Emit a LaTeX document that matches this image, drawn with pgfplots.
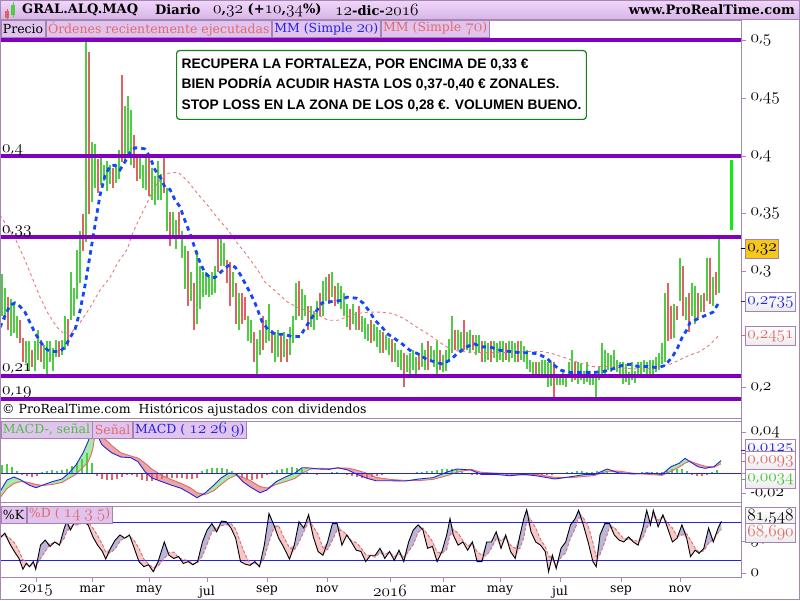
\documentclass[border=0pt]{standalone}
\usepackage{fontspec}
\usepackage{pgfplots}
\pgfplotsset{compat=1.18}
\usepackage{pgfplotstable}
\setmainfont{DejaVu Serif}
\newfontfamily\arial{Liberation Sans}
\newcommand\os[1]{{\fontsize{16}{16}\usefont{OML}{lmm}{m}{it}#1}}
\newcommand\ob[1]{{\fontsize{16}{16}\usefont{OML}{lmm}{b}{it}#1}}
\newcommand\dn[2]{\os{#1},\os{#2}}
\newcommand\fs{\fontsize{12.5}{15}\selectfont}

\definecolor{pur}{RGB}{128,0,190}
\definecolor{frm}{RGB}{165,135,180}
\definecolor{barG}{RGB}{78,204,68}
\definecolor{barR}{RGB}{222,100,100}
\definecolor{maB}{RGB}{20,70,250}
\definecolor{maR}{RGB}{232,120,120}
\definecolor{tagF}{RGB}{224,196,238}
\definecolor{tagB}{RGB}{165,130,180}
\definecolor{hdrT}{RGB}{242,214,250}
\definecolor{hdrB}{RGB}{214,180,230}
\definecolor{salm}{RGB}{228,105,105}
\definecolor{blu}{RGB}{35,35,230}
\definecolor{grn}{RGB}{70,195,60}
\definecolor{gold}{RGB}{246,200,25}
\definecolor{tgt}{RGB}{20,235,20}
\definecolor{fillG}{RGB}{165,235,165}
\definecolor{fillR}{RGB}{238,165,165}
\definecolor{fillK}{RGB}{185,182,218}
\definecolor{fillD}{RGB}{246,200,200}
\definecolor{boxG}{RGB}{20,130,20}

% price bars: x (chart position), low, high, c=1 up / 0 down
\pgfplotstableread{
x lo hi c
2 0.262 0.298 1
5 0.258 0.286 1
8 0.250 0.278 0
11 0.244 0.276 1
14 0.247 0.272 1
17 0.243 0.262 1
20 0.238 0.258 0
23 0.222 0.243 0
26 0.221 0.240 1
29 0.214 0.240 1
32 0.218 0.232 0
35 0.214 0.240 1
38 0.224 0.250 1
41 0.222 0.241 0
44 0.216 0.237 1
47 0.212 0.240 1
50 0.222 0.240 1
53 0.214 0.234 1
56 0.226 0.241 1
59 0.226 0.240 0
62 0.228 0.241 1
65 0.232 0.262 1
68 0.236 0.259 0
71 0.258 0.300 1
74 0.262 0.286 1
77 0.276 0.319 1
80 0.290 0.335 1
83 0.318 0.350 0
86 0.326 0.500 1
89 0.350 0.490 0
92 0.360 0.412 1
95 0.372 0.410 1
98 0.368 0.397 0
101 0.375 0.400 1
104 0.378 0.392 1
107 0.370 0.396 1
110 0.376 0.392 1
113 0.372 0.390 0
116 0.377 0.392 1
119 0.380 0.405 1
122 0.395 0.470 0
125 0.395 0.443 1
128 0.400 0.452 1
131 0.392 0.440 1
134 0.390 0.418 0
137 0.378 0.400 0
140 0.380 0.398 1
143 0.372 0.392 1
146 0.371 0.398 1
149 0.365 0.398 0
152 0.362 0.390 1
155 0.358 0.383 1
158 0.362 0.396 1
161 0.362 0.384 1
164 0.368 0.400 0
167 0.335 0.372 1
170 0.322 0.352 0
173 0.328 0.352 1
176 0.320 0.345 1
179 0.328 0.352 0
182 0.312 0.335 1
185 0.285 0.322 1
188 0.270 0.318 0
191 0.275 0.300 1
194 0.250 0.290 0
197 0.255 0.318 1
200 0.268 0.305 1
203 0.278 0.300 1
206 0.280 0.300 1
209 0.278 0.296 1
212 0.280 0.300 1
215 0.282 0.305 1
218 0.300 0.330 0
221 0.305 0.328 1
224 0.305 0.325 1
227 0.290 0.310 0
230 0.270 0.308 0
233 0.278 0.300 1
236 0.255 0.290 0
239 0.250 0.282 1
242 0.255 0.282 0
245 0.258 0.278 0
248 0.240 0.262 1
251 0.238 0.258 1
254 0.222 0.248 0
257 0.212 0.242 1
260 0.228 0.250 1
263 0.232 0.262 0
266 0.238 0.258 1
269 0.240 0.272 1
272 0.230 0.250 0
275 0.222 0.248 1
278 0.226 0.250 1
281 0.222 0.245 0
284 0.226 0.248 1
287 0.222 0.242 0
290 0.228 0.252 1
293 0.238 0.262 1
296 0.258 0.290 1
299 0.262 0.292 0
302 0.258 0.285 1
305 0.262 0.280 1
308 0.250 0.270 0
311 0.252 0.270 1
314 0.250 0.266 1
317 0.258 0.275 1
320 0.262 0.282 0
323 0.262 0.292 1
326 0.275 0.295 1
329 0.272 0.298 0
332 0.278 0.300 1
335 0.270 0.288 0
338 0.272 0.290 1
341 0.268 0.288 1
344 0.262 0.282 1
347 0.252 0.272 1
350 0.250 0.268 0
353 0.255 0.272 1
356 0.250 0.265 1
359 0.250 0.270 0
362 0.248 0.262 1
365 0.242 0.260 1
368 0.240 0.255 1
371 0.238 0.258 0
374 0.240 0.255 1
377 0.235 0.252 1
380 0.230 0.250 1
383 0.230 0.248 0
386 0.232 0.245 1
389 0.228 0.243 1
392 0.222 0.242 0
395 0.222 0.238 1
398 0.218 0.232 1
401 0.215 0.232 1
404 0.200 0.230 0
407 0.213 0.228 1
410 0.212 0.230 1
413 0.215 0.232 1
416 0.212 0.226 1
419 0.215 0.230 0
422 0.218 0.238 1
425 0.215 0.232 1
428 0.215 0.240 0
431 0.222 0.236 1
434 0.218 0.232 1
437 0.212 0.240 1
440 0.215 0.232 0
443 0.213 0.228 1
446 0.214 0.232 1
449 0.222 0.242 1
452 0.230 0.262 1
455 0.232 0.250 0
458 0.232 0.250 1
461 0.230 0.248 1
464 0.232 0.258 0
467 0.232 0.248 1
470 0.230 0.250 1
473 0.232 0.245 0
476 0.228 0.245 1
479 0.230 0.245 1
482 0.222 0.240 0
485 0.222 0.240 1
488 0.224 0.238 1
491 0.222 0.240 0
494 0.225 0.240 1
497 0.222 0.238 1
500 0.224 0.240 1
503 0.222 0.240 1
506 0.224 0.238 0
509 0.222 0.240 1
512 0.225 0.240 1
515 0.222 0.238 1
518 0.222 0.240 0
521 0.224 0.240 1
524 0.222 0.236 1
527 0.216 0.232 1
530 0.213 0.224 1
533 0.212 0.222 1
536 0.212 0.222 0
539 0.212 0.222 1
542 0.212 0.224 1
545 0.212 0.224 1
548 0.200 0.222 1
551 0.201 0.222 1
554 0.190 0.222 0
557 0.202 0.212 1
560 0.202 0.212 1
563 0.202 0.213 1
566 0.200 0.212 1
569 0.210 0.222 1
572 0.205 0.232 1
575 0.206 0.222 0
578 0.203 0.222 1
581 0.206 0.220 1
584 0.203 0.214 1
587 0.205 0.222 1
590 0.202 0.214 1
593 0.202 0.212 1
596 0.192 0.212 1
599 0.206 0.218 1
602 0.212 0.238 1
605 0.212 0.232 1
608 0.215 0.230 1
611 0.213 0.228 1
614 0.215 0.232 1
617 0.213 0.224 1
620 0.210 0.222 1
623 0.203 0.222 1
626 0.205 0.220 1
629 0.202 0.213 1
632 0.206 0.222 1
635 0.204 0.214 1
638 0.212 0.222 1
641 0.212 0.222 1
644 0.213 0.224 1
647 0.212 0.222 1
650 0.212 0.224 1
653 0.212 0.224 1
656 0.213 0.226 1
659 0.215 0.230 1
662 0.220 0.238 1
665 0.222 0.282 1
668 0.240 0.290 0
671 0.242 0.270 0
674 0.243 0.272 1
677 0.258 0.270 0
680 0.275 0.312 1
683 0.262 0.305 0
686 0.258 0.278 1
689 0.248 0.282 0
692 0.262 0.290 1
695 0.255 0.288 1
698 0.260 0.282 0
701 0.265 0.280 1
704 0.265 0.282 0
707 0.275 0.312 1
710 0.272 0.312 0
713 0.270 0.295 1
716 0.280 0.300 0
719 0.282 0.330 1
}\price

% MM (Simple 20)
\pgfplotstableread{
x y
0 0.252
5 0.262
10 0.271
15 0.273
20 0.270
25 0.265
30 0.256
35 0.247
40 0.240
45 0.234
50 0.231
55 0.231
60 0.231
65 0.235
70 0.243
75 0.250
80 0.266
85 0.288
90 0.314
95 0.340
100 0.366
105 0.383
110 0.391
115 0.392
120 0.388
125 0.395
130 0.403
135 0.407
140 0.407
145 0.406
150 0.399
155 0.388
160 0.382
165 0.373
170 0.371
175 0.362
180 0.356
185 0.344
190 0.333
195 0.320
200 0.308
205 0.299
210 0.295
215 0.295
220 0.299
225 0.303
230 0.306
235 0.304
240 0.298
245 0.290
250 0.282
255 0.273
262 0.257
268 0.250
275 0.246
283 0.246
292 0.244
300 0.244
305 0.251
310 0.258
322 0.273
330 0.274
340 0.275
347 0.278
357 0.277
363 0.273
370 0.265
375 0.258
382 0.252
388 0.246
395 0.242
403 0.237
410 0.232
418 0.229
427 0.224
435 0.222
443 0.220
452 0.225
458 0.230
467 0.235
473 0.238
482 0.235
490 0.235
500 0.232
510 0.231
520 0.230
528 0.230
538 0.229
547 0.225
553 0.220
560 0.215
570 0.213
585 0.213
595 0.213
605 0.214
613 0.216
622 0.219
630 0.220
638 0.218
648 0.218
658 0.217
665 0.219
672 0.226
677 0.233
682 0.243
687 0.250
690 0.256
697 0.259
705 0.262
713 0.265
719 0.2735
}\maTw

% MM (Simple 70)
\pgfplotstableread{
x y
0 0.349
15 0.329
25 0.310
33 0.293
40 0.278
48 0.264
57 0.252
63 0.247
72 0.248
80 0.256
90 0.269
100 0.284
110 0.295
118 0.308
127 0.319
133 0.334
140 0.347
147 0.359
153 0.371
160 0.379
168 0.385
178 0.386
187 0.379
197 0.368
207 0.358
217 0.347
228 0.336
237 0.325
248 0.313
258 0.301
265 0.291
277 0.282
287 0.274
298 0.269
308 0.266
317 0.263
328 0.258
338 0.258
347 0.261
358 0.264
368 0.265
380 0.265
392 0.264
403 0.260
417 0.252
430 0.245
443 0.237
453 0.232
463 0.231
473 0.230
487 0.230
510 0.230
530 0.231
543 0.231
553 0.229
567 0.225
580 0.221
593 0.218
607 0.218
620 0.217
633 0.216
647 0.216
660 0.218
670 0.220
680 0.224
690 0.228
700 0.231
710 0.237
719 0.2451
}\maSe

% MACD and signal
\pgfplotstableread{
x m s
0 -0.018 -0.024
7 -0.0066 -0.015
14 -0.0036 -0.010
21 -0.0066 -0.008
29 -0.0115 -0.009
36 -0.0142 -0.011
43 -0.0115 -0.012
52 -0.0083 -0.011
62 -0.0056 -0.009
69 0.0003 -0.005
76 0.0082 -0.001
83 0.020 0.006
88 0.031 0.011
91 0.040 0.018
93 0.0445 0.025
95 0.041 0.038
98 0.036 0.039
102 0.028 0.036
108 0.023 0.031
112 0.020 0.027
121 0.016 0.020
131 0.0153 0.017
138 0.0114 0.015
145 0.0016 0.010
152 -0.0046 0.004
162 -0.0083 -0.002
171 -0.0115 -0.006
181 -0.0147 -0.010
190 -0.0197 -0.014
197 -0.024 -0.019
205 -0.0194 -0.021
214 -0.0115 -0.017
221 -0.0046 -0.011
229 0.0003 -0.005
236 -0.0007 -0.002
243 -0.0083 -0.004
250 -0.0132 -0.007
260 -0.0191 -0.013
267 -0.0164 -0.0145
276 -0.0083 -0.011
286 -0.0033 -0.008
295 0.0003 -0.005
302 0.0055 0.000
310 0.0052 0.004
319 0.0042 0.005
329 0.0039 0.0045
338 0.0055 0.005
348 0.0032 0.0052
357 -0.001 0.003
367 -0.0049 0.000
376 -0.0073 -0.004
390 -0.0073 -0.006
405 -0.0076 -0.007
419 -0.0056 -0.0071
433 -0.0043 -0.006
448 0.0016 -0.002
457 0.0042 0.001
471 0.0032 0.004
481 -0.001 0.001
495 -0.001 0.0002
510 -0.0024 -0.0004
524 -0.001 -0.0016
538 -0.0027 -0.0012
555 -0.0056 -0.004
571 -0.0033 -0.0042
586 -0.001 -0.003
595 -0.001 -0.002
607 0.0042 0.002
619 0.0003 0.0022
633 -0.0007 0.0001
648 0.0003 -0.001
662 -0.001 -0.002
671 0.0065 0.002
679 0.0098 0.006
685 0.0147 0.010
690 0.0114 0.012
698 0.0065 0.009
705 0.0049 0.007
714 0.0065 0.006
721 0.0125 0.0093
}\macd

% MACD histogram
\pgfplotstableread{
x h
2 0.008
7 0.009
12 0.006
17 0.002
22 -0.002
27 -0.003
32 -0.004
37 -0.003
42 0.001
47 0.002
52 0.003
57 0.002
62 0.003
67 0.004
72 0.007
77 0.010
82 0.014
87 0.020
92 0.010
97 -0.003
102 -0.006
107 -0.007
112 -0.007
117 -0.006
122 -0.004
127 -0.002
132 -0.002
137 -0.004
142 -0.007
147 -0.008
152 -0.008
157 -0.007
162 -0.006
167 -0.005
172 -0.005
177 -0.005
182 -0.005
187 -0.006
192 -0.006
197 -0.005
202 0.002
207 0.004
212 0.005
217 0.005
222 0.005
227 0.004
232 0.002
237 -0.003
242 -0.005
247 -0.007
252 -0.007
257 -0.006
262 -0.005
267 -0.002
272 0.001
277 0.003
282 0.004
287 0.005
292 0.006
297 0.005
302 0.004
307 0.001
312 -0.001
317 -0.002
322 -0.001
327 0.000
332 0.001
337 0.001
342 0.000
347 -0.002
352 -0.003
357 -0.004
362 -0.005
367 -0.005
372 -0.004
377 -0.003
382 -0.002
387 -0.001
392 -0.001
397 0.000
402 -0.001
407 -0.001
412 0.000
417 0.001
422 0.001
427 0.002
432 0.002
437 0.003
442 0.004
447 0.004
452 0.004
457 0.003
462 0.001
467 -0.001
472 -0.002
477 -0.002
482 -0.002
487 -0.001
492 -0.001
497 -0.001
502 -0.001
507 -0.002
512 -0.002
517 -0.001
522 0.000
527 -0.001
532 -0.002
537 -0.002
542 -0.002
547 -0.002
552 -0.002
557 -0.001
562 0.000
567 0.001
572 0.001
577 0.002
582 0.002
587 0.001
592 0.001
597 0.002
602 0.002
607 0.002
612 -0.001
617 -0.001
622 -0.001
627 0.000
632 -0.001
637 0.000
642 0.001
647 0.001
652 0.001
657 0.001
662 0.001
667 0.003
672 0.004
677 0.004
682 0.004
687 0.002
692 -0.002
697 -0.003
702 -0.003
707 -0.002
712 0.001
717 0.003
}\hist

% Stochastic %K and %D
\pgfplotstableread{
x k d
0 55 58
4.8 63 59
9.5 47 55
14.3 34 48
19 23 35
22.9 6 21
26.2 15 17
29.5 10 11
33.3 18 14
35.7 6 11
40.5 44 23
45.2 52 34
50 42 46
54.8 49 48
59.5 44 45
64.3 71 55
66.7 81 65
70.5 68 73
73.8 78 76
78.6 82 76
83.3 81 80
88.1 76 80
92.9 57 71
97.6 44 59
102.4 34 45
105.7 22 33
110.5 39 32
115.2 52 38
120 60 50
124.8 55 56
129.5 60 58
134.3 39 51
139 18 39
143.8 10 22
148.6 13 14
153.3 2 8
158.1 18 11
164.3 49 23
169 28 32
173.8 23 33
178.6 26 24
183.3 15 21
188.1 18 20
192.9 13 15
197.6 18 16
202.4 49 27
207.1 68 45
211.9 78 65
216.7 65 70
221.4 82 75
226.2 81 76
231 71 78
235.7 55 69
240.5 18 48
245.2 14 29
250 12 15
254.8 18 15
259.5 10 13
264.3 44 24
269 94 49
273.8 76 71
278.6 55 75
283.3 42 58
289.5 22 40
294.3 44 36
299 81 49
303.8 71 65
308.6 92 81
313.3 57 73
318.1 34 61
322.9 28 40
327.6 49 37
332.4 78 52
337.1 78 68
341.9 44 67
346.7 60 61
351.4 49 51
356.2 36 48
361 34 40
365.7 18 29
370.5 28 27
375.2 28 25
380 39 32
384.8 23 30
389.5 34 32
394.3 20 26
399 36 30
403.8 18 25
408.6 49 34
413.3 68 45
418.1 76 64
422.9 68 71
427.6 39 61
432.4 42 50
437.1 18 33
441.9 34 31
446.7 60 37
450 86 60
453.3 60 69
458.1 44 63
462.9 49 51
467.6 36 43
472.4 49 45
477.1 18 34
481.9 18 28
486.7 49 28
491.4 49 39
496.2 65 54
501 39 51
505.7 60 55
510.5 34 44
515.2 23 39
520 60 39
523.8 86 56
526.7 100 82
531 65 84
535.7 49 71
540.5 44 53
545.2 34 42
548.6 2 27
552.4 28 21
556.2 7 12
561 39 25
565.7 49 32
570.5 76 55
575.2 86 70
578.6 99 87
583.3 76 87
588.1 49 75
592.9 18 48
596.2 10 26
600 60 29
604.8 78 49
609.5 78 72
614.3 60 72
619 52 63
623.8 49 54
628.6 57 53
633.3 49 52
638.1 44 50
642.9 71 55
646.7 99 71
650.5 76 82
653.3 99 91
658.1 73 83
662.9 92 88
667.6 71 79
672.4 49 71
677.1 55 58
681.9 76 60
686.7 55 62
690.5 26 52
695.2 36 39
699 31 33
703.8 39 35
708.6 71 47
713.3 49 53
718.1 71 64
721.4 81.548 68.69
}\sto

\pgfplotsset{
  panel/.style={scale only axis, xmin=0, xmax=741, xtick=\empty,
    axis line style={draw=frm, line width=0.9pt}, scaled y ticks=false,
    ytick pos=right, yticklabel pos=right, tick align=outside,
    major tick length=5pt, tick style={draw=frm, line width=0.8pt},
    tick label style={font=\fs}, yticklabel style={xshift=1pt}},
  under/.style={scale only axis, hide axis, xmin=0, xmax=741, stack plots=y},
  bars/.style={draw=none, mark=none, restrict expr to domain={\thisrow{c}}{#1},
    error bars/.cd, y dir=plus, y explicit, error mark=none},
}

\tikzset{
  tag/.style={draw=tagB, fill=tagF, line width=0.8pt, inner xsep=2pt, inner ysep=0pt,
    minimum height=17pt, anchor=north west, font=\fs},
  val/.style={draw=tagB, top color=white, bottom color=gray!15, line width=0.8pt,
    inner xsep=2pt, inner ysep=0pt, minimum height=19pt, anchor=west, font=\fs},
}

\begin{document}
\begin{tikzpicture}[x=1pt,y=1pt]
\useasboundingbox (0,0) rectangle (800,600);
\fill[white] (0,0) rectangle (800,600);
\shade[top color=hdrT, bottom color=hdrB] (0,580) rectangle (800,600);

% price panel
\begin{axis}[panel, at={(0pt,580pt)}, anchor=north west, width=741pt, height=398pt,
  ymin=0.17355, ymax=0.5175, ytick={0.2,0.3,0.35,0.4,0.45,0.5},
  yticklabels={\dn{0}{2},\dn{0}{3},\dn{0}{35},\dn{0}{4},\dn{0}{45},\dn{0}{5}}]
\addplot[bars={0.5:1.5}, error bar style={draw=barG, line width=1.7pt}]
  table[x=x, y=lo, y error expr=\thisrow{hi}-\thisrow{lo}] {\price};
\addplot[bars={-0.5:0.5}, error bar style={draw=barR, line width=1.7pt}]
  table[x=x, y=lo, y error expr=\thisrow{hi}-\thisrow{lo}] {\price};
\addplot[maR, line width=0.9pt, dash pattern=on 3pt off 3pt] table[x=x, y=y] {\maSe};
\addplot[maB, line width=2.8pt, dash pattern=on 4.5pt off 4pt] table[x=x, y=y] {\maTw};
\addplot[pur, line width=3.6pt] coordinates {(0,0.5)(741,0.5)};
\addplot[pur, line width=3.6pt] coordinates {(0,0.4)(741,0.4)};
\addplot[pur, line width=3.6pt] coordinates {(0,0.33)(741,0.33)};
\addplot[pur, line width=3.6pt] coordinates {(0,0.21)(741,0.21)};
\addplot[pur, line width=3.6pt] coordinates {(0,0.19)(741,0.19)};
\addplot[tgt, line width=3pt] coordinates {(731,0.3965)(731,0.336)};
\end{axis}

% MACD band between MACD and signal (stacked on the signal)
\begin{axis}[under, at={(0pt,179pt)}, anchor=north west, width=741pt, height=81pt,
  ymin=-0.0282, ymax=0.0514]
\addplot[draw=none] table[x=x, y=s] {\macd};
\addplot[draw=none, fill=fillG] table[x=x, y expr={max(\thisrow{m}-\thisrow{s},0)}] {\macd} \closedcycle;
\addplot[draw=none] table[x=x, y expr={-max(\thisrow{m}-\thisrow{s},0)}] {\macd};
\addplot[draw=none, fill=fillR] table[x=x, y expr={min(\thisrow{m}-\thisrow{s},0)}] {\macd} \closedcycle;
\end{axis}

% MACD panel
\begin{axis}[panel, at={(0pt,179pt)}, anchor=north west, width=741pt, height=81pt,
  ymin=-0.0282, ymax=0.0514, ytick={-0.02,0,0.02,0.04},
  yticklabels={-\dn{0}{02},,,\dn{0}{04}}]
\addplot[ycomb, barG, line width=1.3pt, restrict y to domain=0:1] table[x=x, y=h] {\hist};
\addplot[ycomb, barR, line width=1.3pt, restrict y to domain=-1:0] table[x=x, y=h] {\hist};
\addplot[salm, line width=0.9pt] table[x=x, y=s] {\macd};
\addplot[blu, line width=0.9pt] table[x=x, y=m] {\macd};
\addplot[blu, line width=0.9pt] coordinates {(0,0)(741,0)};
\end{axis}

% stochastic band between %K and %D (stacked on %D)
\begin{axis}[under, at={(0pt,94pt)}, anchor=north west, width=741pt, height=71pt,
  ymin=-6.3, ymax=105.8]
\addplot[draw=none] table[x=x, y=d] {\sto};
\addplot[draw=none, fill=fillK] table[x=x, y expr={max(\thisrow{k}-\thisrow{d},0)}] {\sto} \closedcycle;
\addplot[draw=none] table[x=x, y expr={-max(\thisrow{k}-\thisrow{d},0)}] {\sto};
\addplot[draw=none, fill=fillD] table[x=x, y expr={min(\thisrow{k}-\thisrow{d},0)}] {\sto} \closedcycle;
\end{axis}

% stochastic panel
\begin{axis}[panel, at={(0pt,94pt)}, anchor=north west, width=741pt, height=71pt,
  ymin=-6.3, ymax=105.8, ytick={0,50}, yticklabels={\ob{0},\os{50}},
  xtick={36,92,149,207,267,327,390,443,500,560,621,680},
  xticklabels={\ob{2015},mar,may,jul,sep,nov,\ob{2016},mar,may,jul,sep,nov},
  xtick pos=bottom]
\addplot[blu, line width=0.9pt] coordinates {(0,80)(741,80)};
\addplot[blu, line width=0.9pt] coordinates {(0,20)(741,20)};
\addplot[salm, line width=0.9pt, dash pattern=on 3pt off 2pt] table[x=x, y=d] {\sto};
\addplot[black, line width=0.9pt] table[x=x, y=k] {\sto};
\end{axis}

% frames
\draw[frm, line width=1pt] (0.5,0.5) rectangle (799.5,599.5);
\draw[frm, line width=1pt] (0,580) -- (800,580);
\draw[frm, line width=0.9pt] (741,23) -- (741,580);

% header
\fill[barR] (5,582) rectangle (9,589); \draw[barR] (7,580.5) -- (7,591);
\fill[barG] (11,585) rectangle (15,595); \draw[barG] (13,583) -- (13,598);
\begin{scope}[every node/.style={anchor=west, inner sep=0pt, font=\fontsize{13}{16}\selectfont\bfseries}]
\node at (22,590) {GRAL.ALQ.MAQ};
\node at (155,590) {Diario};
\node at (213,590) {\ob{0},\ob{32} (+\ob{10},\ob{34}\%)};
\node at (335,590) {\ob{12}-dic-\ob{2016}};
\node[anchor=east] at (795,590) {www.ProRealTime.com};
\end{scope}

% legend tags
\node[tag] (p1) at (0.5,580) {Precio};
\node[tag, text=salm] (p2) at (p1.north east) {Órdenes recientemente ejecutadas};
\node[tag, text=blu] (p3) at (p2.north east) {MM (Simple \os{20})};
\node[tag, text=salm] (p4) at (p3.north east) {MM (Simple \os{70})};
\node[tag, text=grn] (m1) at (0.5,179) {MACD-, señal};
\node[tag, text=salm] (m2) at (m1.north east) {Señal};
\node[tag, text=blu] (m3) at (m2.north east) {MACD ( \os{12} \os{26} \os{9})};
\node[tag] (s1) at (0.5,94) {\%K};
\node[tag, text=salm] (s2) at (s1.north east) {\%D ( \os{14} \os{3} \os{5})};

% comment box
\node[draw=boxG, line width=1.2pt, rounded corners=3pt, fill=white, align=left,
  anchor=north west, inner xsep=5pt, inner ysep=8pt,
  font=\arial\bfseries\fontsize{13.8}{20.5}\selectfont] at (176,550)
  {RECUPERA LA FORTALEZA, POR ENCIMA DE 0,33 €\\
   BIEN PODRÍA ACUDIR HASTA LOS 0,37-0,40 € ZONALES.\\
   STOP LOSS EN LA ZONA DE LOS 0,28 €. VOLUMEN BUENO.};

% level labels
\begin{scope}[every node/.style={anchor=west, inner sep=1pt, font=\fs}]
\node at (1,450) {\dn{0}{4}};
\node at (1,369) {\dn{0}{33}};
\node at (1,231) {\dn{0}{21}};
\node at (1,208) {\dn{0}{19}};
\node at (1,190) {\textcopyright\ ProRealTime.com\ \ Históricos ajustados con dividendos};
\end{scope}

% value tags
\draw[black, line width=1pt] (741,351) -- (746,351);
\node[val, fill=gold, top color=gold, bottom color=gold] at (745,351) {\dn{0}{32}};
\draw[blu, line width=1pt] (741,298) -- (746,298);
\node[val, text=blu] at (745,298) {\dn{0}{2735}};
\draw[salm, line width=1pt] (741,264) -- (746,264);
\node[val, text=salm] at (745,264) {\dn{0}{2451}};
\draw[blu, line width=1pt] (741,150) -- (746,150);
\node[val, text=blu] at (745,151) {\dn{0}{0125}};
\draw[salm, line width=1pt] (741,139) -- (746,139);
\node[val, text=salm] at (745,139) {\dn{0}{0093}};
\draw[grn, line width=1pt] (741,121) -- (746,121);
\node[val, text=grn] at (745,121) {\dn{0}{0034}};
\node[val] at (745,83) {\dn{81}{548}};
\node[val, text=salm] at (745,67) {\dn{68}{690}};
\end{tikzpicture}
\end{document}
